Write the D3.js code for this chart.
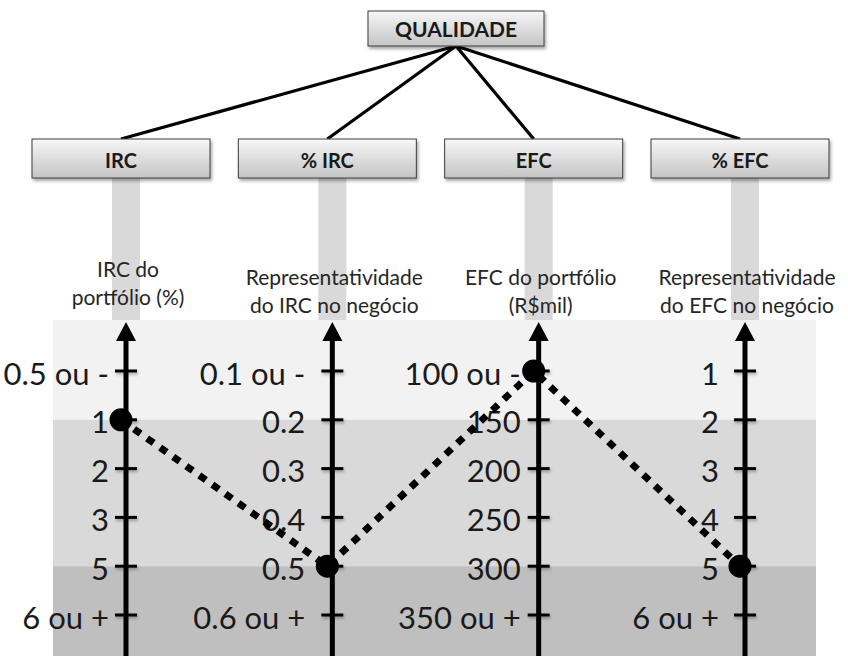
<!DOCTYPE html>
<html>
<head>
<meta charset="utf-8">
<script src="https://cdn.jsdelivr.net/npm/d3@7"></script>
<style>
  html, body { margin: 0; padding: 0; background: #fff; }
  svg { display: block; }
</style>
</head>
<body>
<svg id="chart" width="848" height="656"></svg>
<script>
// Quality criteria and their evaluation scales
const rootLabel = "QUALIDADE";
const criteria = ["IRC", "% IRC", "EFC", "% EFC"];
const descriptions = [
  ["IRC do", "portfólio (%)"],
  ["Representatividade", "do IRC no negócio"],
  ["EFC do portfólio", "(R$mil)"],
  ["Representatividade", "do EFC no negócio"]
];
const ircLevels  = ["0.5 ou -", "1", "2", "3", "5", "6 ou +"];
const pIrcLevels = ["0.1 ou -", "0.2", "0.3", "0.4", "0.5", "0.6 ou +"];
const efcLevels  = ["100 ou -", "150", "200", "250", "300", "350 ou +"];
const pEfcLevels = ["1", "2", "3", "4", "5", "6 ou +"];
const scaleLevels = [ircLevels, pIrcLevels, efcLevels, pEfcLevels];
// Level reached by the portfolio on each criterion
const profile = ["1", "0.5", "100 ou -", "5"];
// Shading zones, as ranges of level positions (top, middle, bottom)
const zoneBreaks = [1, 4];

const W = 848, H = 656;
const svg = d3.select("#chart");

const defs = svg.append("defs");
const grad = defs.append("linearGradient").attr("id", "boxFill")
  .attr("x1", 0).attr("y1", 0).attr("x2", 0).attr("y2", 1);
grad.append("stop").attr("offset", "0%").attr("stop-color", "#f7f7f7");
grad.append("stop").attr("offset", "100%").attr("stop-color", "#c4c4c4");
const shadow = defs.append("filter").attr("id", "shadow")
  .attr("x", "-20%").attr("y", "-40%").attr("width", "150%").attr("height", "200%");
shadow.append("feDropShadow").attr("dx", 1.5).attr("dy", 2.5)
  .attr("stdDeviation", 1.8).attr("flood-color", "#000").attr("flood-opacity", 0.35);
const soft = defs.append("filter").attr("id", "soft")
  .attr("x", "-50%").attr("y", "-50%").attr("width", "200%").attr("height", "200%");
soft.append("feDropShadow").attr("dx", 1).attr("dy", 2)
  .attr("stdDeviation", 1.5).attr("flood-color", "#000").attr("flood-opacity", 0.3);

// Horizontal placement of the four criteria columns
const x = d3.scalePoint().domain(criteria).range([121, 740]);
const axisShift = 5;
const axisX = c => x(c) + axisShift;

// Vertical placement of the scale levels (shared by all axes)
const levelY = d3.scalePoint().domain(d3.range(6)).range([371, 615]);
const plotTop = 320, plotLeft = 53, plotRight = 816;

// Background zones
const zoneEdges = [plotTop, levelY(zoneBreaks[0]), levelY(zoneBreaks[1]), H];
const zoneColors = ["#f2f2f2", "#d9d9d9", "#bfbfbf"];
svg.append("g").selectAll("rect").data(zoneColors).join("rect")
  .attr("x", plotLeft).attr("width", plotRight - plotLeft)
  .attr("y", (d, i) => zoneEdges[i])
  .attr("height", (d, i) => zoneEdges[i + 1] - zoneEdges[i])
  .attr("fill", d => d);

// Hierarchy connectors
const rootBox = { cx: 456, y: 11, w: 176, h: 35 };
const childBox = { y: 139, w: 178, h: 39 };
svg.append("g").selectAll("line").data(criteria).join("line")
  .attr("x1", rootBox.cx).attr("y1", rootBox.y + rootBox.h)
  .attr("x2", d => x(d)).attr("y2", childBox.y)
  .attr("stroke", "#000").attr("stroke-width", 3.2);

// Gray strips linking each criterion box to its axis
svg.append("g").selectAll("rect").data(criteria).join("rect")
  .attr("x", d => axisX(d) - 14).attr("width", 28)
  .attr("y", childBox.y + childBox.h).attr("height", plotTop - childBox.y - childBox.h)
  .attr("fill", "#d9d9d9");

// Root box
const root = svg.append("g");
root.append("rect")
  .attr("x", rootBox.cx - rootBox.w / 2).attr("y", rootBox.y)
  .attr("width", rootBox.w).attr("height", rootBox.h)
  .attr("fill", "url(#boxFill)").attr("stroke", "#3c3c3c").attr("stroke-width", 1)
  .attr("filter", "url(#shadow)");
root.append("text")
  .attr("x", rootBox.cx).attr("y", rootBox.y + 26)
  .attr("text-anchor", "middle")
  .style("font-family", "Lato, 'Open Sans', sans-serif")
  .style("font-weight", 700).style("font-size", "21px").attr("fill", "#1a1a1a")
  .text(rootLabel);

// Criterion boxes
const boxes = svg.append("g").selectAll("g").data(criteria).join("g");
boxes.append("rect")
  .attr("x", d => x(d) - childBox.w / 2).attr("y", childBox.y)
  .attr("width", childBox.w).attr("height", childBox.h)
  .attr("fill", "url(#boxFill)").attr("stroke", "#3c3c3c").attr("stroke-width", 1)
  .attr("filter", "url(#shadow)");
boxes.append("text")
  .attr("x", d => x(d)).attr("y", childBox.y + 29)
  .attr("text-anchor", "middle")
  .style("font-family", "Lato, 'Open Sans', sans-serif")
  .style("font-weight", 700).style("font-size", "20px").attr("fill", "#1a1a1a")
  .text(d => d);

// Criterion descriptions
svg.append("g").selectAll("text").data(criteria).join("text")
  .attr("text-anchor", "middle")
  .style("font-family", "Lato, 'Open Sans', sans-serif")
  .style("font-size", "21px").attr("fill", "#262626")
  .each(function (d, i) {
    d3.select(this).selectAll("tspan").data(descriptions[i]).join("tspan")
      .attr("x", axisX(d) + 2).attr("y", (t, j) => (i === 0 ? 277 : 285) + j * 28)
      .text(t => t);
  });

// Axes with their level labels
const labelPad = [17, 27, 18, 26];
const yScales = criteria.map((c, i) =>
  d3.scalePoint().domain(scaleLevels[i]).range(levelY.range()));

criteria.forEach((c, i) => {
  const y = yScales[i];
  const g = svg.append("g").attr("transform", `translate(${axisX(c)},0)`);
  const ax = d3.axisLeft(y).tickSize(0).tickPadding(labelPad[i]);
  g.call(ax);
  g.select(".domain").remove();
  g.selectAll(".tick text")
    .attr("dy", "0.42em")
    .style("font-family", "Lato, 'Open Sans', sans-serif")
    .style("font-size", "31px").attr("fill", "#1a1a1a");

  // tick marks crossing the axis
  g.append("g").attr("filter", "url(#soft)").selectAll("line").data(y.domain()).join("line")
    .attr("x1", -11).attr("x2", 11)
    .attr("y1", d => y(d)).attr("y2", d => y(d))
    .attr("stroke", "#000").attr("stroke-width", 3);

  // axis shaft with arrow head
  g.append("line")
    .attr("x1", 0).attr("x2", 0).attr("y1", plotTop + 18).attr("y2", H)
    .attr("stroke", "#000").attr("stroke-width", 5);
  g.append("path")
    .attr("d", d3.line()([[-10, plotTop + 21], [0, plotTop + 2], [10, plotTop + 21]]) + "Z")
    .attr("fill", "#000");
});

// Portfolio profile: dotted line through the reached levels
const profilePts = criteria.map((c, i) => [x(c), yScales[i](profile[i])]);
svg.append("path")
  .attr("d", d3.line()(profilePts))
  .attr("fill", "none").attr("stroke", "#000")
  .attr("stroke-width", 7).attr("stroke-dasharray", "8 8");

svg.append("g").selectAll("circle").data(profilePts).join("circle")
  .attr("cx", d => d[0]).attr("cy", d => d[1]).attr("r", 11.5)
  .attr("fill", "#000");
</script>
</body>
</html>
